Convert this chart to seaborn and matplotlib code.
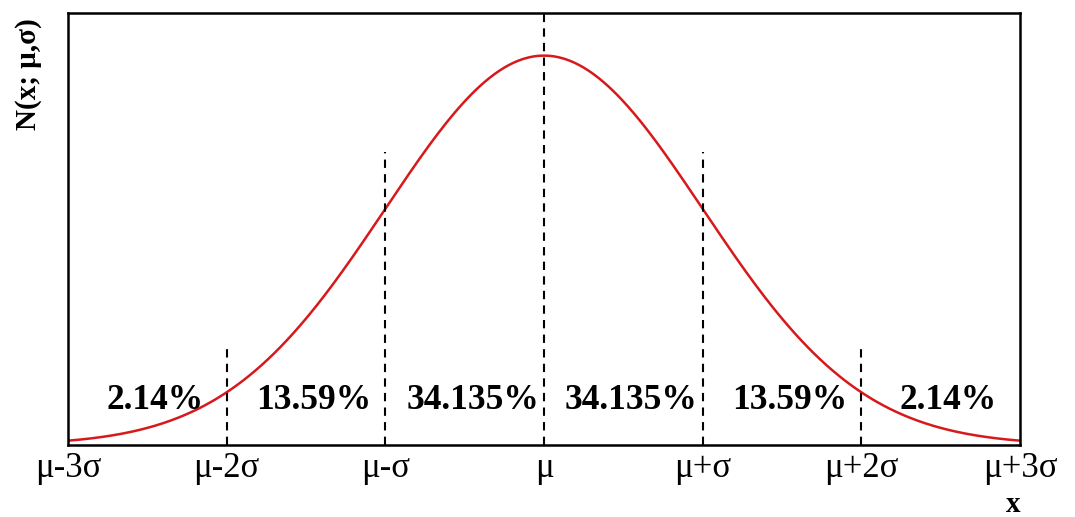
import numpy as np
import pandas as pd
import matplotlib
matplotlib.use("Agg")
import matplotlib.pyplot as plt
import seaborn as sns

# Data
mu, sigma = 0.0, 1.0
tick_positions = [-3, -2, -1, 0, 1, 2, 3]
tick_labels = ["μ-3σ", "μ-2σ", "μ-σ", "μ", "μ+σ", "μ+2σ", "μ+3σ"]
divider_x = [-2, -1, 0, 1, 2]
divider_top = [0.098, 0.300, 0.4426, 0.300, 0.098]
pct_x = [-2.45, -1.45, -0.45, 0.55, 1.55, 2.55]
pct_labels = ["2.14%", "13.59%", "34.135%", "34.135%", "13.59%", "2.14%"]

x = np.linspace(-3, 3, 601)
y = np.exp(-0.5 * ((x - mu) / sigma) ** 2) / (sigma * np.sqrt(2 * np.pi))
df = pd.DataFrame({"x": x, "y": y})

sns.set_theme(style="white")
plt.rcParams["font.family"] = ["Liberation Serif", "DejaVu Serif"]
plt.rcParams["text.color"] = "black"

fig = plt.figure(figsize=(10.75, 5.17), dpi=100)
ax = fig.add_axes([68 / 1075, 1 - 445 / 517, (1020 - 68) / 1075, (445 - 13) / 517])

sns.lineplot(data=df, x="x", y="y", ax=ax, color="#d7191c", lw=1.8)

for xv, top in zip(divider_x, divider_top):
    ax.plot([xv, xv], [0, top], color="black", lw=1.5, ls=(0, (4, 3)))

for xv, lab in zip(pct_x, pct_labels):
    ax.text(xv, 0.046, lab, ha="center", va="center", fontsize=25.5,
            fontweight="bold", color="black")

ax.set_xlim(-3, 3)
ax.set_ylim(0, 0.4426)
ax.set_xticks(tick_positions)
ax.set_xticklabels(tick_labels, fontsize=25)
ax.set_yticks([])
ax.tick_params(axis="x", length=0, pad=5, colors="black")
ax.set_xlabel("")
ax.set_ylabel("")
for s in ax.spines.values():
    s.set_color("black")
    s.set_linewidth(1.8)

fig.text(28 / 1075, 1 - 74 / 517, "N(x; μ,σ)", rotation=90, ha="center",
         va="center", fontsize=21, fontweight="bold", color="black")
fig.text(1013 / 1075, 1 - 505 / 517, "x", ha="center", va="center",
         fontsize=21, fontweight="bold", color="black")

fig.savefig("out.png", dpi=100, facecolor="white")
